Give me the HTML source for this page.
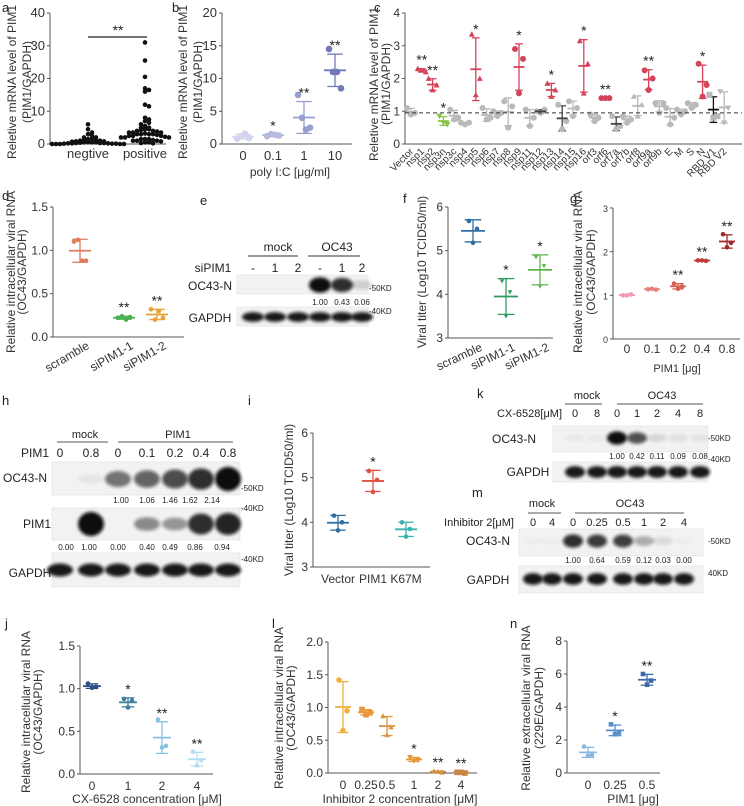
<!DOCTYPE html>
<html><head><meta charset="utf-8">
<style>
html,body{margin:0;padding:0;background:#fff;}
svg{display:block;font-family:"Liberation Sans",Arial,sans-serif;}
</style></head>
<body>
<svg id="fig" width="744" height="806" viewBox="0 0 744 806" xmlns="http://www.w3.org/2000/svg">
<defs><filter id="blur" x="-30%" y="-60%" width="160%" height="220%"><feGaussianBlur stdDeviation="1.6"/></filter></defs>
</svg>
<script>
// ---------- DATA ----------
const aCats=["negtive","positive"];
const aNeg=[6,4.5,3.5,3,2.5,2,2,1.5,1.5,1.2,1,1,0.8,0.8,0.6,0.5,0.5,0.4,0.3,0.3,0.2,0.2,0.1,0.1,0.1,0,0,0,0,0,0.3,0.5,1,0.7,0.2];
const aPos=[31,25.5,20.5,17,16.5,16,12,11.5,8,7.5,7,6.5,6,5.5,5,5,4.5,4.5,4,4,3.5,3.5,3.5,3,3,3,3,2.5,2.5,2.5,2,2,2,1.5,1.5,1.5,1,1,1,0.8,0.5,0.5,0.3,3.2,3.8,2.8,4.2,2.2,1.2,0.2];
const aTicks=[0,10,20,30,40];

const bCats=["0","0.1","1","10"];
const bVals=[[0.8,1.2,1.6,0.9],[1.2,1.5,1.4,1.3],[7.5,4,2.2,2.5],[14.5,11,11,8.5]];
const bStars=["","*","**","**"];
const bTicks=[0,5,10,15,20];

const cCats=["Vector","nsp1","nsp2","nsp3n","nsp3c","nsp4","nsp5","nsp6","nsp7","nsp8","nsp9","nsp11","nsp12","nsp13","nsp14","nsp15","nsp16","orf3","orf6","orf7a","orf7b","orf8","orf9a","orf9b","E","M","S","N","RBD V1","RBD V2"];
const cVals=[[1.1,0.95,0.9],[2.3,2.2,2.25],[2.0,1.8,1.65],[0.85,0.6,0.65],[1.05,0.8,0.75],[0.65,0.65,0.6],[3.35,2.0,1.5],[1.1,0.8,0.75],[1.0,0.95,0.85],[1.3,1.15,0.5],[2.9,2.6,1.55],[1.05,0.8,0.55],[1.0,1.05,0.95],[1.85,1.65,1.45],[1.2,0.7,0.45],[1.3,1.1,0.85],[3.15,2.45,1.55],[0.9,0.8,0.7],[1.4,1.4,1.4],[0.85,0.55,0.45],[0.85,0.75,0.65],[1.45,1.2,0.85],[2.25,2.0,1.65],[1.25,1.25,0.95],[1.1,0.8,0.6],[1.05,1.0,0.9],[1.25,1.2,1.1],[2.45,1.8,1.45],[1.5,0.85,0.8],[1.6,1.1,0.65]];
const cStars=["","**","**","*","","","*","","","","*","","","*","","","*","","**","","","","**","","","","","*","",""];
const cBaseline=0.95;
const cTicks=[0,1,2,3,4];

const dCats=["scramble","siPIM1-1","siPIM1-2"];
const dVals=[[1.1,1.12,0.88,0.88],[0.22,0.24,0.2,0.23],[0.32,0.2,0.3,0.22]];
const dStars=["","**","**"];
const dTicks=[0,0.5,1.0,1.5];

const fCats=["scramble","siPIM1-1","siPIM1-2"];
const fVals=[[5.68,5.5,5.18],[4.3,4.05,3.5],[4.85,4.65,4.18]];
const fStars=["","*","*"];
const fTicks=[3,4,5,6];

const gCats=["0","0.1","0.2","0.4","0.8"];
const gVals=[[1.0,1.02,1.0],[1.14,1.13,1.15],[1.27,1.2,1.15],[1.8,1.79,1.8],[2.4,2.2,2.1]];
const gStars=["","","**","**","**"];
const gTicks=[0,1,2,3];

const iCats=["Vector","PIM1","K67M"];
const iVals=[[4.15,4.0,3.82],[5.15,4.95,4.68],[4.0,3.85,3.68]];
const iStars=["","*",""];
const iTicks=[3,4,5,6];

const jCats=["0","1","2","4"];
const jVals=[[1.06,1.02,1.01],[0.88,0.86,0.78],[0.64,0.33,0.31],[0.26,0.16,0.1]];
const jStars=["","*","**","**"];
const jTicks=[0,0.5,1.0,1.5];

const lCats=["0","0.25","0.5","1","2","4"];
const lVals=[[1.42,0.95,0.65],[0.97,0.92,0.89],[0.87,0.7,0.58],[0.24,0.2,0.18],[0.03,0.01,0.02],[0.01,0.0,0.01]];
const lStars=["","","","*","**","**"];
const lTicks=[0,0.5,1.0,1.5,2.0];

const nCats=["0","0.25","0.5"];
const nVals=[[1.6,1.1,1.05],[2.95,2.45,2.35],[6.0,5.6,5.35]];
const nStars=["","*","**"];
const nTicks=[0,2,4,6,8];

const eOC43=[0,0,0,1,0.85,0.15];
const eNums=["1.00","0.43","0.06"];
const hOC43=[0,0.05,0.55,0.62,0.72,0.85,1];
const hOC43Nums=["1.00","1.06","1.46","1.62","2.14"];
const hPIM1=[0,1,0,0.45,0.4,0.85,0.9];
const hPIM1Nums=["0.00","1.00","0.00","0.40","0.49","0.86","0.94"];
const kOC43=[0.04,0.04,1,0.7,0.12,0.08,0.06];
const kNums=["1.00","0.42","0.11","0.09","0.08"];
const mOC43=[0.02,0.02,0.85,0.8,0.78,0.3,0.1,0.02];
const mNums=["1.00","0.64","0.59","0.12","0.03","0.00"];

// ---------- HELPERS ----------
const NS="http://www.w3.org/2000/svg";
const svg=document.getElementById('fig');
function mk(tag,attrs,name,parent){
  const el=document.createElementNS(NS,tag);
  for(const k in attrs) el.setAttribute(k,attrs[k]);
  
  
  (parent||svg).appendChild(el);
  return el;
}
function txt(x,y,s,size,anchor,name,rot,fill){
  const a={x:x,y:y,'font-size':size,'text-anchor':anchor||'middle',fill:fill||'#222'};
  if(rot) a.transform='rotate('+rot+' '+x+' '+y+')';
  const t=mk('text',a,name);
  t.textContent=s;
  return t;
}
function line(x1,y1,x2,y2,name,stroke,w,dash){
  const a={x1:x1,y1:y1,x2:x2,y2:y2,stroke:stroke||'#333','stroke-width':w||1};
  if(dash) a['stroke-dasharray']=dash;
  return mk('line',a,name);
}
function axes(o){
  const y=v=>o.yb-(v-o.vmin)/(o.vmax-o.vmin)*(o.yb-o.yt);
  line(o.x0,o.yb,o.x0,o.yt,o.id+'-y-axis','#555',1);
  line(o.x0,o.yb,o.x1,o.yb,o.id+'-x-axis','#555',1);
  o.ticks.forEach(t=>{
    line(o.x0-3,y(t),o.x0,y(t),o.id+'-y-tick','#555',1);
    txt(o.x0-5,y(t)+4,o.fmt?o.fmt(t):String(t),o.fs||12,'end',o.id+'-y-tick-label',null,'#333');
  });
  return y;
}
function marker(x,y,shape,r,color,name){
  if(shape==='^') return mk('polygon',{points:(x)+','+(y-r)+' '+(x-r)+','+(y+r*0.8)+' '+(x+r)+','+(y+r*0.8),fill:color},name);
  if(shape==='v') return mk('polygon',{points:(x)+','+(y+r)+' '+(x-r)+','+(y-r*0.8)+' '+(x+r)+','+(y-r*0.8),fill:color},name);
  if(shape==='s') return mk('rect',{x:x-r,y:y-r,width:2*r,height:2*r,fill:color},name);
  return mk('circle',{cx:x,cy:y,r:r,fill:color},name);
}
function stats(v){const m=v.reduce((a,b)=>a+b,0)/v.length;const sd=Math.sqrt(v.reduce((a,b)=>a+(b-m)*(b-m),0)/(v.length-1));return [m,sd];}
function group(id,x,vals,y,color,shape,r,mw,barColor,star){
  const off=vals.length===4?[-6,-2,2,6]:[-4,4,0];
  const [m,sd]=stats(vals);
  line(x,y(m+sd),x,y(Math.max(m-sd,0)),id+'-sd-bar',barColor||color,1.3);
  line(x-mw*0.35,y(m+sd),x+mw*0.35,y(m+sd),id+'-sd-cap',barColor||color,1.3);
  line(x-mw*0.35,y(Math.max(m-sd,0)),x+mw*0.35,y(Math.max(m-sd,0)),id+'-sd-cap',barColor||color,1.3);
  vals.forEach((v,k)=>marker(x+off[k%off.length],y(v),shape,r,color,id+'-point'));
  line(x-mw/2,y(m),x+mw/2,y(m),id+'-mean',barColor||color,1.8);
  if(star) txt(x,y(m+sd)-4,star,14,'middle',id+'-significance',null,'#222');
}
function band(x,yc,w,h,intens,name){
  if(intens<=0.01) return;
  const op=Math.min(1,intens);
  mk('ellipse',{cx:x,cy:yc,rx:w/2,ry:h/2*(0.6+0.5*op),fill:'#111',opacity:op,filter:'url(#blur)'},name);
}
function blotBox(x0,y0,x1,y1,name){
  return mk('rect',{x:x0,y:y0,width:x1-x0,height:y1-y0,fill:'#f2f2f2',stroke:'#ddd','stroke-width':0.5},name);
}
function letter(x,y,s){txt(x,y,s,13,'start','panel-label-'+s,null,'#222');}

// ---------- PANEL a ----------
letter(2,12,'a');
const ya=axes({id:'a',x0:50,x1:166,yb:144,yt:13,vmin:0,vmax:40,ticks:aTicks,fs:13});
const aX=[88,145];
[aNeg,aPos].forEach((arr,gi)=>{
  const bins={};
  arr.slice().sort((p,q)=>q-p).forEach(v=>{
    const b=Math.round(v/1.3);bins[b]=(bins[b]||0)+1;const k=bins[b]-1;
    const dx=(k%2?1:-1)*Math.ceil(k/2)*4;
    marker(aX[gi]+dx,ya(v),'o',2.3,'#111','a-point');
  });
  txt(aX[gi],158,aCats[gi],13,'middle','a-x-tick-label',null,'#333');
});
line(88,37,147,37,'a-significance-bar','#222',1.2);
txt(118,35,'**',14,'middle','a-significance');
txt(16,82,'Reletive mRNA level of PIM1',12,'middle','a-y-axis-title',-90,'#333');
txt(31,82,'(PIM1/GAPDH)',12,'middle','a-y-axis-title-2',-90,'#333');

// ---------- PANEL b ----------
letter(172,12,'b');
const yb=axes({id:'b',x0:222,x1:352,yb:144,yt:13,vmin:0,vmax:20,ticks:bTicks,fs:13});
const bX=[243,273,304,335], bCol=['#d3d5ee','#b6bade','#979ecf','#7279b9'];
bCats.forEach((c,i)=>{group('b-'+c,bX[i],bVals[i],yb,bCol[i],'o',3.3,22,bCol[i],bStars[i]);txt(bX[i],160,c,13,'middle','b-x-tick-label',null,'#333');});
txt(290,176,'poly I:C [μg/ml]',12,'middle','b-x-axis-title',null,'#333');
txt(187,82,'Reletive mRNA level of PIM1',12,'middle','b-y-axis-title',-90,'#333');
txt(202,82,'(PIM1/GAPDH)',12,'middle','b-y-axis-title-2',-90,'#333');

// ---------- PANEL c ----------
letter(374,12,'c');
const yc=axes({id:'c',x0:405,x1:742,yb:144,yt:13,vmin:0,vmax:4,ticks:cTicks,fs:12});
const cShape=['o','^','^','v','o','o','^','o','o','o','o','o','o','^','o','o','^','o','o','o','o','^','o','o','o','o','o','o','s','v'];
cCats.forEach((c,i)=>{
  const x=411+10.8*i;
  let col='#b9b9b9',bar='#b9b9b9';
  if(cStars[i]) {col='#d4435a';bar='#d4435a';}
  if(c==='nsp3n'){col='#8bc34a';bar='#8bc34a';}
  if(c==='RBD V1') bar='#111';
  if(c==='nsp14'||c==='orf7a'||c==='nsp12') bar='#444';
  group('c-'+c,x,cVals[i],yc,col,cShape[i],3,11,bar,cStars[i]);
  txt(x+3,152,c,10,'end','c-x-tick-label',-45,'#333');
});
line(405,yc(cBaseline),742,yc(cBaseline),'c-vector-baseline','#333',1,'4,3');
txt(378,84,'Reletive mRNA level of PIM1',12,'middle','c-y-axis-title',-90,'#333');
txt(390,84,'(PIM1/GAPDH)',12,'middle','c-y-axis-title-2',-90,'#333');

// ---------- PANEL d ----------
letter(2,200,'d');
const yd=axes({id:'d',x0:53,x1:184,yb:337,yt:207,vmin:0,vmax:1.5,ticks:dTicks,fmt:v=>v.toFixed(1),fs:12});
const dX=[80,124,157], dCol=['#e07b5b','#4caf50','#e8a030'];
dCats.forEach((c,i)=>{group('d-'+c,dX[i],dVals[i],yd,dCol[i],'o',2.3,22,dCol[i],dStars[i]);txt(dX[i]+10,348,c,12,'end','d-x-tick-label',-30,'#333');});
txt(15,272,'Relative intracellular viral RNA',12,'middle','d-y-axis-title',-90,'#333');
txt(26,272,'(OC43/GAPDH)',12,'middle','d-y-axis-title-2',-90,'#333');

// ---------- PANEL e (western) ----------
letter(200,205,'e');
txt(278,251,'mock',12,'middle','e-mock-label');
line(248,256,298,256,'e-mock-line','#777',1.5);
txt(337,251,'OC43',12,'middle','e-oc43-label');
line(308,256,360,256,'e-oc43-line','#777',1.5);
txt(213,272,'siPIM1',12,'middle','e-sipim1-label');
const eLanes=[253,275,298,320,342,362], eLbl=['-','1','2','-','1','2'];
eLanes.forEach((x,i)=>txt(x,272,eLbl[i],12,'middle','e-lane-label'));
blotBox(237,275,368,294,'e-oc43n-blot');
eOC43.forEach((v,i)=>band(eLanes[i],285,22,14,v,'e-oc43n-band'));
txt(210,290,'OC43-N',12,'middle','e-oc43n-label');
eNums.forEach((s,i)=>txt(eLanes[i+3],305,s,8,'middle','e-quant'));
blotBox(237,307,368,326,'e-gapdh-blot');
eLanes.forEach(x=>band(x,317,22,9,0.95,'e-gapdh-band'));
txt(210,322,'GAPDH',12,'middle','e-gapdh-label');
txt(369,291,'-50KD',8,'start','e-50kd');
txt(369,314,'-40KD',8,'start','e-40kd');

// ---------- PANEL f ----------
letter(403,203,'f');
const yf=axes({id:'f',x0:448,x1:553,yb:338,yt:207,vmin:3,vmax:6,ticks:fTicks,fs:12});
const fX=[473,506,540], fCol=['#2f6ea5','#2e9a5e','#5eb44c'];
fCats.forEach((c,i)=>{group('f-'+c,fX[i],fVals[i],yf,fCol[i],i?'v':'o',2.3,24,fCol[i],fStars[i]);txt(fX[i]+10,350,c,12,'end','f-x-tick-label',-25,'#333');});
txt(426,272,'Viral titer (Log10 TCID50/ml)',12,'middle','f-y-axis-title',-90,'#333');

// ---------- PANEL g ----------
letter(570,203,'g');
const yg=axes({id:'g',x0:613,x1:740,yb:339,yt:208,vmin:0,vmax:3,ticks:gTicks,fs:9});
const gX=[627,652,678,702,727], gCol=['#f29ab0','#e6807a','#d8604f','#bf3b3b','#9e2a2a'];
gCats.forEach((c,i)=>{group('g-'+c,gX[i],gVals[i],yg,gCol[i],'o',2.3,16,gCol[i],gStars[i]);txt(gX[i],353,c,12,'middle','g-x-tick-label',null,'#333');});
txt(677,372,'PIM1 [μg]',11,'middle','g-x-axis-title',null,'#333');
txt(582,272,'Relative intracellular viral RNA',12,'middle','g-y-axis-title',-90,'#333');
txt(595,272,'(OC43/GAPDH)',12,'middle','g-y-axis-title-2',-90,'#333');

// ---------- PANEL h (western) ----------
letter(2,405,'h');
txt(85,438,'mock',11,'middle','h-mock-label');
line(57,442,108,442,'h-mock-line','#777',1.3);
txt(178,438,'PIM1',11,'middle','h-pim1-group-label');
line(118,442,233,442,'h-pim1-line','#777',1.3);
txt(35,457,'PIM1',12,'middle','h-pim1-dose-label');
const hLanes=[60,91,118,147,175,201,228], hLbl=['0','0.8','0','0.1','0.2','0.4','0.8'];
hLanes.forEach((x,i)=>txt(x,457,hLbl[i],12,'middle','h-lane-label'));
blotBox(52,462,240,495,'h-oc43n-blot');
hOC43.forEach((v,i)=>band(hLanes[i],479,26,14+8*v,v,'h-oc43n-band'));
txt(25,482,'OC43-N',12,'middle','h-oc43n-label');
hOC43Nums.forEach((s,i)=>txt([121,147,170,190,212][i],503,s,8,'middle','h-oc43n-quant'));
txt(241,491,'-50KD',8,'start','h-50kd');
txt(241,511,'-40KD',8,'start','h-40kd-1');
blotBox(52,508,240,540,'h-pim1-blot');
hPIM1.forEach((v,i)=>band(hLanes[i],524,26,12+10*v,v,'h-pim1-band'));
txt(37,528,'PIM1',12,'middle','h-pim1-label');
hPIM1Nums.forEach((s,i)=>txt([66,89,118,147,170,195,222][i],550,s,8,'middle','h-pim1-quant'));
txt(241,562,'-40KD',8,'start','h-40kd-2');
blotBox(52,553,240,587,'h-gapdh-blot');
hLanes.forEach(x=>band(x,570,26,12,0.95,'h-gapdh-band'));
txt(30,577,'GAPDH',12,'middle','h-gapdh-label');

// ---------- PANEL i ----------
letter(248,405,'i');
const yi=axes({id:'i',x0:313,x1:430,yb:567,yt:433,vmin:3,vmax:6,ticks:iTicks,fs:12});
const iX=[338,373,406], iCol=['#2f6ea5','#e05040','#39b3ad'];
iCats.forEach((c,i)=>{group('i-'+c,iX[i],iVals[i],yi,iCol[i],'o',2.3,22,iCol[i],iStars[i]);txt(iX[i],583,c,12,'middle','i-x-tick-label',null,'#333');});
txt(293,500,'Viral titer (Log10 TCID50/ml)',12,'middle','i-y-axis-title',-90,'#333');

// ---------- PANEL k (western) ----------
letter(477,398,'k');
txt(587,399,'mock',11,'middle','k-mock-label');
line(565,404,602,404,'k-mock-line','#777',1.3);
txt(662,399,'OC43',11,'middle','k-oc43-label');
line(617,404,703,404,'k-oc43-line','#777',1.3);
txt(562,417,'CX-6528[μM]',11,'end','k-cx-label');
const kLanes=[575,597,617,637,657,678,700], kLbl=['0','8','0','1','2','4','8'];
kLanes.forEach((x,i)=>txt(x,417,kLbl[i],11,'middle','k-lane-label'));
blotBox(553,426,708,452,'k-oc43n-blot');
kOC43.forEach((v,i)=>band(kLanes[i],438,20,12,v,'k-oc43n-band'));
txt(514,443,'OC43-N',12,'middle','k-oc43n-label');
kNums.forEach((s,i)=>txt(kLanes[i+2],459,s,8,'middle','k-quant'));
blotBox(553,462,708,482,'k-gapdh-blot');
kLanes.forEach(x=>band(x,472,20,11,0.95,'k-gapdh-band'));
txt(528,476,'GAPDH',12,'middle','k-gapdh-label');
txt(708,441,'-50KD',8,'start','k-50kd');
txt(708,462,'-40KD',8,'start','k-40kd');

// ---------- PANEL m (western) ----------
letter(472,497,'m');
txt(542,507,'mock',11,'middle','m-mock-label');
line(528,513,561,513,'m-mock-line','#777',1.3);
txt(630,507,'OC43',11,'middle','m-oc43-label');
line(575,513,684,513,'m-oc43-line','#777',1.3);
txt(479,526,'Inhibitor 2[μM]',11,'middle','m-inhibitor-label');
const mLanes=[533,552,573,597,623,644,663,684], mLbl=['0','4','0','0.25','0.5','1','2','4'];
mLanes.forEach((x,i)=>txt(x,526,mLbl[i],11,'middle','m-lane-label'));
blotBox(519,529,703,556,'m-oc43n-blot');
mOC43.forEach((v,i)=>band(mLanes[i],541,20,13,v,'m-oc43n-band'));
txt(488,545,'OC43-N',12,'middle','m-oc43n-label');
mNums.forEach((s,i)=>txt(mLanes[i+2],563,s,8,'middle','m-quant'));
blotBox(519,566,703,593,'m-gapdh-blot');
mLanes.forEach(x=>band(x,579,20,11,0.95,'m-gapdh-band'));
txt(488,584,'GAPDH',12,'middle','m-gapdh-label');
txt(708,544,'-50KD',8,'start','m-50kd');
txt(708,576,'40KD',8,'start','m-40kd');

// ---------- PANEL j ----------
letter(5,628,'j');
const yj=axes({id:'j',x0:80,x1:213,yb:774,yt:646,vmin:0,vmax:1.5,ticks:jTicks,fmt:v=>v.toFixed(1),fs:12});
const jX=[92,128,162,197], jCol=['#2d4f83','#3f7f9a','#86c3df','#b2def0'];
jCats.forEach((c,i)=>{group('j-'+c,jX[i],jVals[i],yj,jCol[i],'o',2.3,18,jCol[i],jStars[i]);txt(jX[i],790,c,12,'middle','j-x-tick-label',null,'#333');});
txt(147,803,'CX-6528 concentration [μM]',12,'middle','j-x-axis-title',null,'#333');
txt(30,712,'Relative intracellular viral RNA',12,'middle','j-y-axis-title',-90,'#333');
txt(42,712,'(OC43/GAPDH)',12,'middle','j-y-axis-title-2',-90,'#333');

// ---------- PANEL l ----------
letter(272,628,'l');
const yl=axes({id:'l',x0:328,x1:477,yb:773,yt:642,vmin:0,vmax:2,ticks:lTicks,fmt:v=>v.toFixed(1),fs:12});
const lX=[343,366,387,414,438,461], lCol=['#f0b23c','#e8973a','#d9963f','#e49a35','#d49040','#c98545'];
const lShape=['o','s','^','v','^','s'];
lCats.forEach((c,i)=>{group('l-'+c,lX[i],lVals[i],yl,lCol[i],lShape[i],2.8,16,lCol[i],lStars[i]);txt(lX[i],789,c,12,'middle','l-x-tick-label',null,'#333');});
txt(400,803,'Inhibitor 2 concentration [μM]',12,'middle','l-x-axis-title',null,'#333');
txt(283,708,'Relative intracellular viral RNA',12,'middle','l-y-axis-title',-90,'#333');
txt(295,708,'(OC43/GAPDH)',12,'middle','l-y-axis-title-2',-90,'#333');

// ---------- PANEL n ----------
letter(510,628,'n');
const yn=axes({id:'n',x0:567,x1:660,yb:773,yt:641,vmin:0,vmax:8,ticks:nTicks,fs:12});
const nX=[588,615,647], nCol=['#8bb8e0','#5a8ec8','#3b6aa8'];
nCats.forEach((c,i)=>{group('n-'+c,nX[i],nVals[i],yn,nCol[i],i?'s':'o',2.3,18,nCol[i],nStars[i]);txt(nX[i],789,c,12,'middle','n-x-tick-label',null,'#333');});
txt(633,803,'PIM1 [μg]',12,'middle','n-x-axis-title',null,'#333');
txt(530,708,'Relative extracellular viral RNA',12,'middle','n-y-axis-title',-90,'#333');
txt(543,708,'(229E/GAPDH)',12,'middle','n-y-axis-title-2',-90,'#333');
</script>
</body></html>
